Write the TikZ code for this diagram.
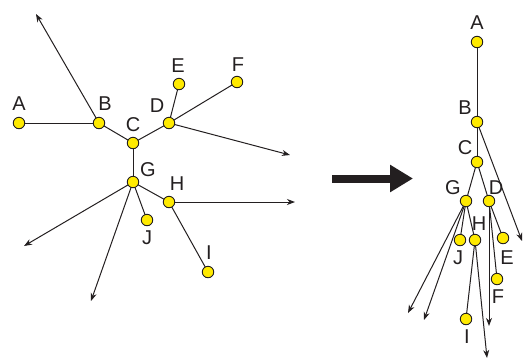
\documentclass[tikz,border=0pt]{standalone}
\usepackage{fontspec}
\setmainfont{Liberation Sans}
\usetikzlibrary{arrows.meta}
\definecolor{nodeyellow}{RGB}{255,234,0}
\definecolor{ink}{RGB}{35,31,32}
\tikzset{
  vtx/.style={circle,draw=ink,line width=0.9pt,fill=nodeyellow,minimum size=11.5pt,inner sep=0pt},
  lbl/.style={inner sep=0pt,font=\fontsize{20}{22}\selectfont,text=ink},
  edge/.style={draw=ink,line width=1pt},
  ray/.style={draw=ink,line width=1pt,-{Stealth[length=8pt,width=6pt,inset=2.5pt]}},
  bigarrow/.style={draw=ink,line width=8pt,-{Triangle[length=23pt,width=26pt]}}
}
\begin{document}
\begin{tikzpicture}[x=1pt,y=-1pt]
\useasboundingbox (0,0) rectangle (524,360);
% ---------- left tree ----------
\coordinate (a1) at (19,123);
\coordinate (b1) at (99,123);
\coordinate (c1) at (133,143);
\coordinate (d1) at (169,123);
\coordinate (e1) at (179,84);
\coordinate (f1) at (237,82);
\coordinate (g1) at (133,182);
\coordinate (h1) at (169,202);
\coordinate (j1) at (147,220);
\coordinate (i1) at (208,272);
\coordinate (rB) at (36,14);
\coordinate (rD) at (290,155);
\coordinate (rH) at (295,202);
\coordinate (rG1) at (24,246);
\coordinate (rG2) at (91,301);
\path[edge] (a1) -- (b1);
\path[edge] (b1) -- (c1);
\path[edge] (c1) -- (d1);
\path[edge] (d1) -- (e1);
\path[edge] (d1) -- (f1);
\path[edge] (c1) -- (g1);
\path[edge] (g1) -- (h1);
\path[edge] (h1) -- (i1);
\path[edge] (g1) -- (j1);
\path[ray] (b1) -- (rB);
\path[ray] (d1) -- (rD);
\path[ray] (h1) -- (rH);
\path[ray] (g1) -- (rG1);
\path[ray] (g1) -- (rG2);
\node[vtx] (A) at (a1) {};
\node[vtx] (B) at (b1) {};
\node[vtx] (C) at (c1) {};
\node[vtx] (D) at (d1) {};
\node[vtx] (E) at (e1) {};
\node[vtx] (F) at (f1) {};
\node[vtx] (G) at (g1) {};
\node[vtx] (H) at (h1) {};
\node[vtx] (J) at (j1) {};
\node[vtx] (I) at (i1) {};
\node[lbl] (lA) at (19,104) {A};
\node[lbl] (lB) at (105,104) {B};
\node[lbl] (lC) at (133,125) {C};
\node[lbl] (lD) at (157,106) {D};
\node[lbl] (lE) at (178,65.5) {E};
\node[lbl] (lF) at (238,64.5) {F};
\node[lbl] (lG) at (148,170) {G};
\node[lbl] (lH) at (177,184) {H};
\node[lbl] (lJ) at (147,238) {J};
\node[lbl] (lI) at (209,253) {I};
% ---------- big arrow ----------
\coordinate (bigL) at (332,178.5);
\coordinate (bigR) at (413,178.5);
\path[bigarrow] (bigL) -- (bigR);
% ---------- right tree ----------
\coordinate (a2) at (477,42);
\coordinate (b2) at (477,122);
\coordinate (c2) at (477,162);
\coordinate (g2) at (466,201);
\coordinate (d2) at (489,201);
\coordinate (e2) at (503,238);
\coordinate (f2) at (497,279);
\coordinate (j2) at (460,240);
\coordinate (h2) at (475,240);
\coordinate (i2) at (466,319);
\coordinate (sB) at (522,241);
\coordinate (sD) at (489,326);
\coordinate (sH) at (487,358);
\coordinate (sG1) at (408,313);
\coordinate (sG2) at (424,320);
\path[edge] (a2) -- (b2);
\path[edge] (b2) -- (c2);
\path[edge] (c2) -- (g2);
\path[edge] (c2) -- (d2);
\path[edge] (d2) -- (e2);
\path[edge] (d2) -- (f2);
\path[edge] (g2) -- (j2);
\path[edge] (g2) -- (h2);
\path[edge] (h2) -- (i2);
\path[ray] (b2) -- (sB);
\path[ray] (d2) -- (sD);
\path[ray] (h2) -- (sH);
\path[ray] (g2) -- (sG1);
\path[ray] (g2) -- (sG2);
\node[vtx] (A2) at (a2) {};
\node[vtx] (B2) at (b2) {};
\node[vtx] (C2) at (c2) {};
\node[vtx] (D2) at (d2) {};
\node[vtx] (E2) at (e2) {};
\node[vtx] (F2) at (f2) {};
\node[vtx] (G2) at (g2) {};
\node[vtx] (H2) at (h2) {};
\node[vtx] (J2) at (j2) {};
\node[vtx] (I2) at (i2) {};
\node[lbl] (lA2) at (477,23) {A};
\node[lbl] (lB2) at (465,108) {B};
\node[lbl] (lC2) at (465,148) {C};
\node[lbl] (lG2) at (453,188) {G};
\node[lbl] (lD2) at (496,188) {D};
\node[lbl] (lJ2) at (458,258) {J};
\node[lbl] (lH2) at (479,224) {H};
\node[lbl] (lE2) at (507,258) {E};
\node[lbl] (lF2) at (498,297) {F};
\node[lbl] (lI2) at (467,337) {I};
\end{tikzpicture}
\end{document}
